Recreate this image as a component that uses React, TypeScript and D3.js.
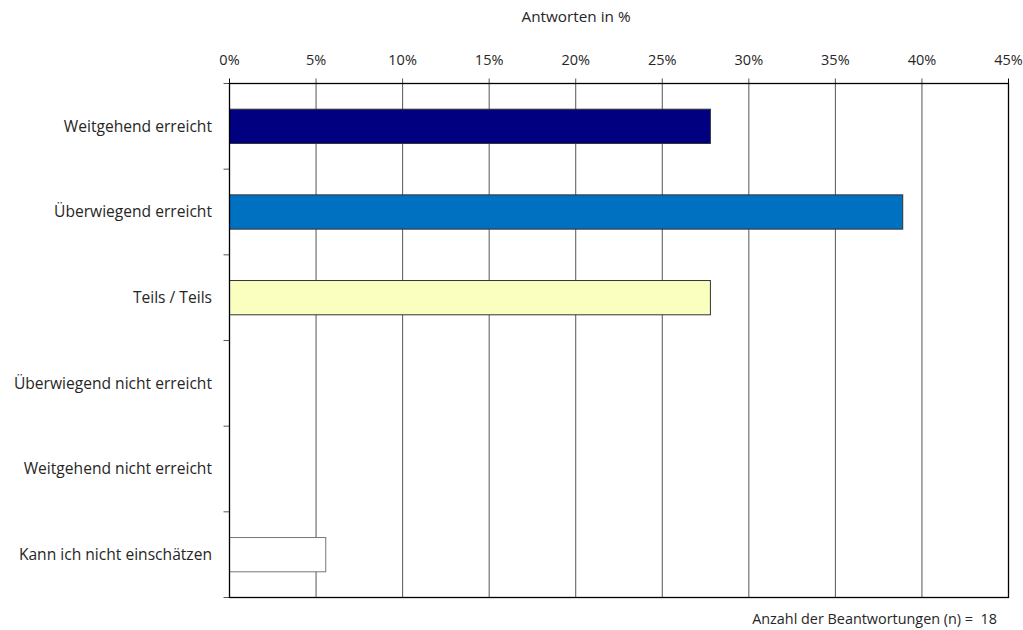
import React from "react";
import * as d3 from "d3";

const categories = [
  "Weitgehend erreicht",
  "Überwiegend erreicht",
  "Teils / Teils",
  "Überwiegend nicht erreicht",
  "Weitgehend nicht erreicht",
  "Kann ich nicht einschätzen",
];
const values = [27.78, 38.89, 27.78, 0, 0, 5.56];
const colors = ["#000080", "#0070C0", "#FAFFC0", "#FFFFFF", "#FFFFFF", "#FFFFFF"];
const ticks = [0, 5, 10, 15, 20, 25, 30, 35, 40, 45];
const nCount = 18;

const W = 1023;
const H = 630;
const left = 229.5;
const right = 1008.5;
const top = 83.5;
const bottom = 597.5;
const font = "'Open Sans', sans-serif";
const textColor = "#262626";

export default function App() {
  const x = d3.scaleLinear().domain([0, 45]).range([left, right]);
  const y = d3.scaleBand<string>().domain(categories).range([top, bottom]).paddingInner(0.6).paddingOuter(0.3);
  const yb = d3.scaleBand<string>().domain(categories).range([top, bottom]);
  const bounds = d3.range(categories.length + 1).map((i) => top + (i * (bottom - top)) / categories.length);
  return (
    <svg width={W} height={H} style={{ position: "absolute", left: 0, top: 0 }}>
      <rect width={W} height={H} fill="#fff" />
      <text x={576} y={22} textAnchor="middle" fontFamily={font} fontSize={15.3} fill={textColor}>
        Antworten in %
      </text>
      {ticks.map((t) => (
        <g key={t}>
          <line x1={x(t)} x2={x(t)} y1={top - 5} y2={bottom} stroke={t === 0 || t === 45 ? "#000" : "#555"} strokeWidth={1} />
          <text x={x(t)} y={65} textAnchor="middle" fontFamily={font} fontSize={14.5} fill={textColor}>
            {t}%
          </text>
        </g>
      ))}
      {bounds.map((b, i) => (
        <line key={i} x1={left - 6} x2={left} y1={b} y2={b} stroke="#555" />
      ))}
      {categories.map((c, i) => (
        <g key={c}>
          {values[i] > 0 && (
            <rect
              x={x(0)}
              y={y(c)!}
              width={x(values[i]) - x(0)}
              height={y.bandwidth()}
              fill={colors[i]}
              stroke={i === 5 ? "#777" : "#333"}
              strokeWidth={1}
            />
          )}
          <text
            x={212}
            y={(yb(c) ?? 0) + yb.bandwidth() / 2}
            dy="0.35em"
            textAnchor="end"
            fontFamily={font}
            fontSize={15.6}
            fill={textColor}
          >
            {c}
          </text>
        </g>
      ))}
      <rect x={left} y={top} width={right - left} height={bottom - top} fill="none" stroke="#000" strokeWidth={1.3} />
      <text x={997} y={624} textAnchor="end" fontFamily={font} fontSize={14.4} fill={textColor}>
        {`Anzahl der Beantwortungen (n) =\u00A0\u00A0${nCount}`}
      </text>
    </svg>
  );
}
